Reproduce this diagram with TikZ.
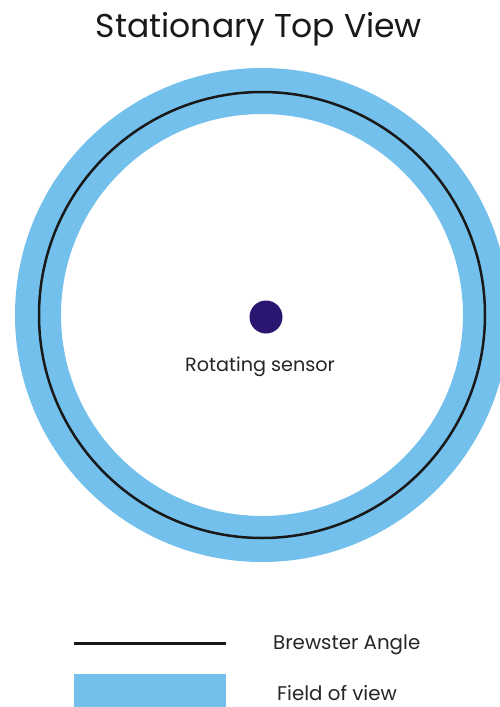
\documentclass[tikz,border=0pt]{standalone}
\usepackage{fontspec}
\setmainfont{Poppins}
\definecolor{fov}{RGB}{115,192,236}
\definecolor{sensorcol}{RGB}{42,22,112}
\begin{document}
\begin{tikzpicture}[x=1pt,y=-1pt,
  lbl/.style={font=\fontsize{19.2}{22}\selectfont, text=black!85, inner sep=0},
  leg/.style={font=\fontsize{19.8}{22}\selectfont, text=black!85, inner sep=0},
  ttl/.style={font=\fontsize{33}{40}\selectfont, text=black!90, inner sep=0}]
\useasboundingbox (0,0) rectangle (500,707);
\clip (0,0) rectangle (500,707);
\fill[white] (0,0) rectangle (500,707);
\fill[fov, even odd rule] (262,315) circle[radius=247] (262,315) circle[radius=201];
\draw[line width=2.5pt, black!90] (262,315) circle[radius=223];
\node[circle, fill=sensorcol, minimum size=33pt, inner sep=0] (sensor) at (266,317) {};
\node[lbl, anchor=base] (sl) at (260,371) {Rotating sensor};
\node[ttl, anchor=base] (title) at (259,37) {Stationary Top View};
\coordinate (la) at (74,643);
\coordinate (lb) at (226,643);
\draw[line width=3pt, black!90] (la) -- (lb);
\fill[fov] (74,674) rectangle (226,720);
\node[leg, anchor=base west] (l1) at (273,649) {Brewster Angle};
\node[leg, anchor=base west] (l2) at (277,700) {Field of view};
\end{tikzpicture}
\end{document}
